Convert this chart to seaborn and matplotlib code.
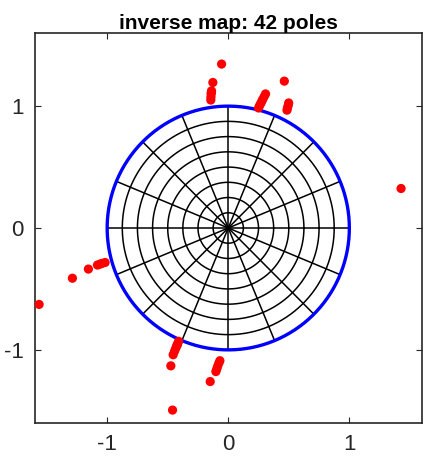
import numpy as np
import pandas as pd
import matplotlib
matplotlib.use("Agg")
import matplotlib.pyplot as plt
import seaborn as sns

pole_x = [-0.055, -0.127, -0.138, -0.140, -0.141, -0.143, -0.144,
          0.463, 0.308, 0.296, 0.284, 0.275, 0.267, 0.258, 0.250,
          0.499, 0.495, 0.489, 0.485,
          1.427,
          -1.562, -1.287, -1.155, -1.080, -1.060, -1.044, -1.017,
          -0.410, -0.418, -0.422, -0.427, -0.435, -0.444, -0.455, -0.474, -0.460,
          -0.069, -0.078, -0.088, -0.095, -0.102, -0.149]
pole_y = [1.345, 1.194, 1.125, 1.112, 1.100, 1.075, 1.050,
          1.205, 1.100, 1.077, 1.054, 1.035, 1.020, 1.003, 0.985,
          1.026, 1.005, 0.985, 0.967,
          0.324,
          -0.627, -0.412, -0.337, -0.304, -0.297, -0.291, -0.283,
          -0.930, -0.950, -0.960, -0.971, -0.990, -1.012, -1.040, -1.131, -1.494,
          -1.089, -1.110, -1.136, -1.157, -1.178, -1.260]

grid_radii = [0.125, 0.25, 0.375, 0.5, 0.625, 0.75, 0.875]
spoke_count = 16
boundary_radius = 1.0
tick_values = [-1, 0, 1]
tick_labels = ["-1", "0", "1"]
title_text = "inverse map: 42 poles"

sns.set_style("white")
plt.rcParams['font.family'] = ['Liberation Sans', 'DejaVu Sans']
plt.rcParams['axes.unicode_minus'] = False

fig = plt.figure(figsize=(4.24, 4.58), dpi=100)
ax = fig.add_axes([34.5 / 424, 35 / 458, 387.5 / 424, 390 / 458])

theta = np.linspace(0, 2 * np.pi, 400)
# concentric grid circles
for r in grid_radii:
    df = pd.DataFrame({"x": r * np.cos(theta), "y": r * np.sin(theta)})
    sns.lineplot(data=df, x="x", y="y", sort=False, estimator=None,
                 color="black", linewidth=1.1, ax=ax)
# radial spokes
for k in range(spoke_count):
    a = 2 * np.pi * k / spoke_count
    df = pd.DataFrame({"x": [0, boundary_radius * np.cos(a)],
                       "y": [0, boundary_radius * np.sin(a)]})
    sns.lineplot(data=df, x="x", y="y", sort=False, estimator=None,
                 color="black", linewidth=1.1, ax=ax)
# unit circle
df = pd.DataFrame({"x": boundary_radius * np.cos(theta),
                   "y": boundary_radius * np.sin(theta)})
sns.lineplot(data=df, x="x", y="y", sort=False, estimator=None,
             color="#0000ff", linewidth=2.4, ax=ax)

poles = pd.DataFrame({"x": pole_x, "y": pole_y})
sns.scatterplot(data=poles, x="x", y="y", color="#ff0000", s=44,
                edgecolor="none", ax=ax, zorder=5)

ax.set_xlim(-1.6, 1.6)
ax.set_ylim(-1.6, 1.6)
ax.set_xticks(tick_values)
ax.set_xticklabels(tick_labels)
ax.set_yticks(tick_values)
ax.set_yticklabels(tick_labels)
ax.set_xlabel("")
ax.set_ylabel("")
ax.tick_params(direction="in", length=4, width=0.8, colors="#262626",
               labelsize=16, pad=8, top=True, right=True,
               bottom=True, left=True, labeltop=False, labelright=False)
for s in ax.spines.values():
    s.set_color("#262626")
    s.set_linewidth(1.2)
ax.set_title(title_text, fontsize=15, fontweight="bold", pad=3, color="black")

fig.savefig("out.png", dpi=100)
